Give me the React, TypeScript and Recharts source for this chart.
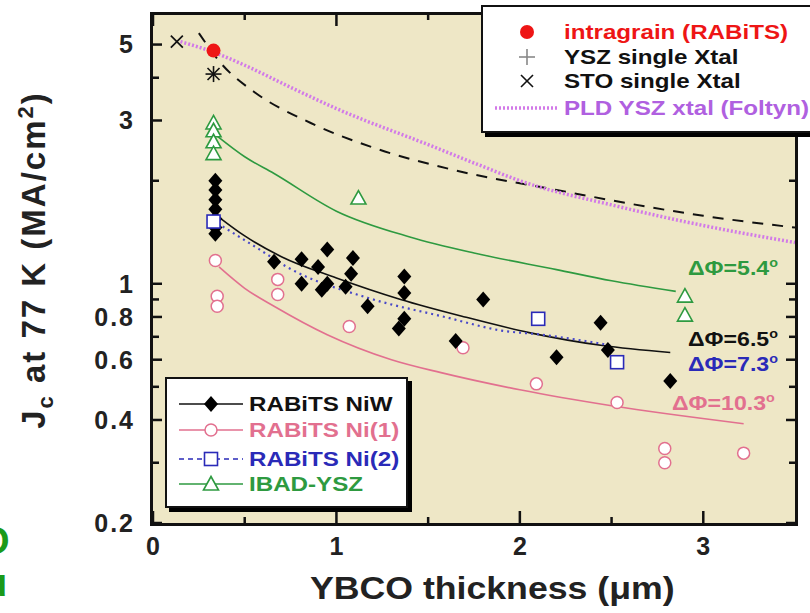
import React from 'react'
import { ComposedChart, XAxis, YAxis, Line, Scatter } from 'recharts'

const FONT = "'Liberation Sans', Arial, Helvetica, sans-serif"
const BG = '#EEE7C6'
const PINK = '#E2708F'
const BLUE = '#2A2AB8'
const GREEN = '#2E9A40'
const RED = '#EE1515'
const MAGENTA = '#D27AE8'

// measured points (thickness in um, Jc in MA/cm2)
const niwX = [0.34, 0.34, 0.34, 0.34, 0.34, 0.34, 0.34, 0.66, 0.81, 0.81, 0.9, 0.95, 0.92, 0.95, 1.09, 1.08, 1.05, 1.17, 1.37, 1.37, 1.37, 1.34, 1.65, 1.8, 2.2, 2.44, 2.48, 2.82]
const niwY = [2.0, 1.88, 1.76, 1.65, 1.55, 1.46, 1.4, 1.16, 1.18, 1.0, 1.12, 1.26, 0.96, 1.0, 1.19, 1.07, 0.98, 0.86, 1.05, 0.94, 0.79, 0.74, 0.68, 0.9, 0.61, 0.77, 0.64, 0.52]

const ni1X = [0.34, 0.35, 0.35, 0.68, 0.68, 1.07, 1.69, 2.09, 2.53, 2.79, 2.79, 3.22]
const ni1Y = [1.17, 0.92, 0.86, 1.03, 0.93, 0.75, 0.65, 0.51, 0.45, 0.33, 0.3, 0.32]

const ni2X = [0.33, 2.1, 2.53]
const ni2Y = [1.52, 0.79, 0.59]

const ibadX = [0.33, 0.33, 0.33, 0.33, 1.12, 2.9, 2.9]
const ibadY = [2.95, 2.8, 2.6, 2.4, 1.78, 0.92, 0.81]

const intraX = [0.33]
const intraY = [4.8]
const yszX = [0.33]
const yszY = [4.1]
const stoX = [0.13, 0.33]
const stoY = [5.1, 4.1]

// fitted curves
const niwFitX = [0.35, 0.5, 0.7, 1.0, 1.35, 1.7, 2.05, 2.45, 2.82]
const niwFitY = [1.58, 1.38, 1.2, 1.04, 0.9, 0.8, 0.72, 0.66, 0.63]
const ni1FitX = [0.36, 0.5, 0.66, 0.95, 1.3, 1.57, 2.0, 2.5, 3.22]
const ni1FitY = [1.12, 0.97, 0.86, 0.71, 0.6, 0.55, 0.49, 0.44, 0.39]
const ni2FitX = [0.38, 0.58, 0.73, 1.17, 1.59, 1.9, 2.12, 2.5]
const ni2FitY = [1.47, 1.26, 1.12, 0.91, 0.8, 0.73, 0.71, 0.66]
const ibadFitX = [0.35, 0.5, 0.66, 1.0, 1.4, 1.75, 2.2, 2.5, 2.85]
const ibadFitY = [2.7, 2.35, 2.1, 1.63, 1.37, 1.23, 1.1, 1.02, 0.95]
const pldX = [0.15, 0.33, 0.5, 0.75, 1.0, 1.5, 1.8, 2.0, 2.5, 3.0, 3.5]
const pldY = [5.1, 4.75, 4.35, 3.75, 3.25, 2.55, 2.2, 2.0, 1.7, 1.48, 1.32]
const xtalFitX = [0.25, 0.38, 0.55, 0.86, 1.2, 1.64, 2.2, 2.72, 3.0, 3.5]
const xtalFitY = [5.4, 4.35, 3.64, 2.95, 2.5, 2.15, 1.88, 1.67, 1.58, 1.46]

const xTicks = [0, 1, 2, 3]
const xMinor = [0.5, 1.5, 2.5]
const yTicks = [0.2, 0.4, 0.6, 0.8, 1, 3, 5]
const yMinor = [0.3, 0.5, 0.7, 0.9, 2, 4]

const deltaLabels = ['5.4', '6.5', '7.3', '10.3']

const X_DOMAIN = [0, 3.5]
const Y_DOMAIN = [0.2, 6.1]

const zip = (xs: number[], ys: number[]) => xs.map((x, i) => ({ x, y: ys[i] }))

function mark(kind: string, cx: number, cy: number, legend = false) {
  switch (kind) {
    case 'diamond':
      return <polygon points={`${cx},${cy - 8} ${cx + 7},${cy} ${cx},${cy + 8} ${cx - 7},${cy}`} fill="#000" />
    case 'circle':
      return <circle cx={cx} cy={cy} r={6} fill="#fff" stroke={PINK} strokeWidth={1.5} />
    case 'square':
      return <rect x={cx - 6.5} y={cy - 6.5} width={13} height={13} fill="#fff" stroke={BLUE} strokeWidth={1.6} />
    case 'triangle':
      return <polygon points={`${cx},${cy - 7.5} ${cx + 7.5},${cy + 6} ${cx - 7.5},${cy + 6}`} fill="#fff" stroke={GREEN} strokeWidth={1.6} />
    case 'dot':
      return <circle cx={cx} cy={cy} r={7} fill={RED} />
    case 'plus':
      return (
        <g stroke={legend ? '#888' : '#111'} strokeWidth={1.6}>
          <line x1={cx - 8} y1={cy} x2={cx + 8} y2={cy} />
          <line x1={cx} y1={cy - 8} x2={cx} y2={cy + 8} />
        </g>
      )
    default:
      return (
        <g stroke="#111" strokeWidth={1.6}>
          <line x1={cx - 6} y1={cy - 6} x2={cx + 6} y2={cy + 6} />
          <line x1={cx - 6} y1={cy + 6} x2={cx + 6} y2={cy - 6} />
        </g>
      )
  }
}

const shape = (kind: string) => (p: any) => mark(kind, p.cx, p.cy)

// a tick mark is a short stroke starting at the point and pointing into the plot
const tickShape = (dx: number, dy: number) => (p: any) => (
  <line x1={p.cx} y1={p.cy} x2={p.cx + dx} y2={p.cy + dy} stroke="#111" strokeWidth={2.5} />
)

const topLegend = [
  { kind: 'dot', label: 'intragrain (RABiTS)', color: RED },
  { kind: 'plus', label: 'YSZ single Xtal', color: '#111' },
  { kind: 'cross', label: 'STO single Xtal', color: '#111' },
  { kind: 'pld', label: 'PLD YSZ xtal (Foltyn)', color: '#B060E0' },
]

const bottomLegend = [
  { kind: 'diamond', label: 'RABiTS NiW', color: '#111', line: '#111', dash: '' },
  { kind: 'circle', label: 'RABiTS Ni(1)', color: PINK, line: PINK, dash: '' },
  { kind: 'square', label: 'RABiTS Ni(2)', color: BLUE, line: BLUE, dash: '5 4' },
  { kind: 'triangle', label: 'IBAD-YSZ', color: GREEN, line: GREEN, dash: '' },
]

const tickFont = { fill: '#222', fontSize: 25, fontWeight: 700, fontFamily: FONT }

export default function App() {
  const fitLine = (data: any[], color: string, width: number, dash?: string) => (
    <Line
      data={data}
      dataKey="y"
      xAxisId="x"
      yAxisId="y"
      type="monotone"
      stroke={color}
      strokeWidth={width}
      strokeDasharray={dash}
      dot={false}
      activeDot={false}
      isAnimationActive={false}
    />
  )
  const pts = (data: any[], kind: string) => (
    <Scatter data={data} dataKey="y" xAxisId="x" yAxisId="y" shape={shape(kind)} isAnimationActive={false} />
  )
  const ticks = (data: any[], dx: number, dy: number) => (
    <Scatter data={data} dataKey="y" xAxisId="x" yAxisId="y" shape={tickShape(dx, dy)} isAnimationActive={false} />
  )
  const [x0, x1] = X_DOMAIN
  const [y0, y1] = Y_DOMAIN
  const atX = (vals: number[], y: number) => vals.map((x) => ({ x, y }))
  const atY = (vals: number[], x: number) => vals.map((y) => ({ x, y }))
  const txt: React.CSSProperties = { position: 'absolute', fontFamily: FONT, fontWeight: 700, whiteSpace: 'nowrap', transformOrigin: 'left center' }

  return (
    <div style={{ position: 'absolute', left: 0, top: 0, width: 810, height: 613, overflow: 'hidden', background: '#fff' }}>
      {/* plot panel and frame behind the svg */}
      <div style={{ position: 'absolute', left: 150, top: 12, width: 642, height: 508, background: BG, border: '3px solid #111' }} />
      <div style={{ position: 'absolute', left: 0, top: 0 }}>
        <ComposedChart width={810} height={613} margin={{ top: 15, right: 15, bottom: 60, left: 93 }}>
          <XAxis xAxisId="x" dataKey="x" type="number" domain={X_DOMAIN} ticks={xTicks} interval={0} allowDataOverflow
            height={30} tickLine={false} tickSize={0} tickMargin={14} axisLine={false} tick={tickFont} />
          <YAxis yAxisId="y" dataKey="y" type="number" scale="log" domain={Y_DOMAIN} ticks={yTicks} interval={0} allowDataOverflow
            width={60} tickLine={false} tickSize={0} tickMargin={18} axisLine={false} tick={{ ...tickFont, letterSpacing: 2 }} />

          {/* inward tick marks on all four frame edges */}
          {ticks(atX(xTicks, y0), 0, -12)}
          {ticks(atX(xMinor, y0), 0, -6)}
          {ticks(atX(xTicks, y1), 0, 11)}
          {ticks(atX(xMinor, y1), 0, 5)}
          {ticks(atY(yTicks, x0), 9, 0)}
          {ticks(atY(yMinor, x0), 6, 0)}
          {ticks(atY(yTicks, x1), -9, 0)}
          {ticks(atY(yMinor, x1), -6, 0)}

          {fitLine(zip(xtalFitX, xtalFitY), '#111', 2, '11 9')}
          {fitLine(zip(pldX, pldY), MAGENTA, 3.5, '2 2')}
          {fitLine(zip(ibadFitX, ibadFitY), GREEN, 1.6)}
          {fitLine(zip(ni1FitX, ni1FitY), PINK, 1.6)}
          {fitLine(zip(niwFitX, niwFitY), '#111', 1.6)}
          {fitLine(zip(ni2FitX, ni2FitY), '#4848C8', 2.2, '2 4')}

          {pts(zip(ni1X, ni1Y), 'circle')}
          {pts(zip(ibadX, ibadY), 'triangle')}
          {pts(zip(niwX, niwY), 'diamond')}
          {pts(zip(ni2X, ni2Y), 'square')}
          {pts(zip(stoX, stoY), 'cross')}
          {pts(zip(yszX, yszY), 'plus')}
          {pts(zip(intraX, intraY), 'dot')}
        </ComposedChart>
      </div>

      {/* axis titles */}
      <div style={{ ...txt, left: -174, top: 240, width: 400, height: 40, lineHeight: '40px', textAlign: 'center', fontSize: 33, letterSpacing: 2, color: '#222', transform: 'rotate(-90deg)', transformOrigin: 'center' }}>
        J<sub style={{ fontSize: 22 }}>c</sub> at 77 K (MA/cm<sup style={{ fontSize: 22 }}>2</sup>)
      </div>
      <div style={{ ...txt, left: 310, top: 571, fontSize: 31, color: '#222', transform: 'scaleX(1.15)' }}>YBCO thickness (μm)</div>

      {/* fit annotations */}
      {[
        { left: 688, top: 255, color: GREEN },
        { left: 688, top: 326, color: '#111' },
        { left: 688, top: 351, color: BLUE },
        { left: 672, top: 390, color: PINK },
      ].map((a, i) => (
        <div key={i} style={{ ...txt, left: a.left, top: a.top, fontSize: 21, color: a.color, transform: 'scaleX(1.1)' }}>
          ΔΦ={deltaLabels[i]}<sup style={{ fontSize: 13 }}>o</sup>
        </div>
      ))}

      {/* top-right legend */}
      <div style={{ position: 'absolute', left: 481, top: 5, width: 340, height: 124, background: '#fff', border: '2px solid #111', boxShadow: '4px 4px 0 #000' }}>
        {topLegend.map((e, i) => (
          <div key={i} style={{ position: 'absolute', left: 0, top: [25, 50, 74, 101][i] - 14, height: 28, width: 340 }}>
            <svg width={80} height={28} style={{ position: 'absolute', left: 0, top: 0 }}>
              {e.kind === 'pld'
                ? <line x1={12} y1={14} x2={74} y2={14} stroke={MAGENTA} strokeWidth={3.5} strokeDasharray="2 2" />
                : mark(e.kind, 44, 14, true)}
            </svg>
            <div style={{ ...txt, left: 81, top: 0, lineHeight: '28px', fontSize: 21, color: e.color, transform: 'scaleX(1.15)' }}>{e.label}</div>
          </div>
        ))}
      </div>

      {/* bottom-left legend */}
      <div style={{ position: 'absolute', left: 165, top: 377, width: 239, height: 127, background: '#fff', border: '2px solid #111', boxShadow: '4px 4px 0 #000' }}>
        {bottomLegend.map((e, i) => (
          <div key={i} style={{ position: 'absolute', left: 0, top: [25, 51, 80, 105][i] - 14, height: 28, width: 239 }}>
            <svg width={80} height={28} style={{ position: 'absolute', left: 0, top: 0 }}>
              <line x1={12} y1={14} x2={76} y2={14} stroke={e.line} strokeWidth={1.5} strokeDasharray={e.dash || undefined} />
              {mark(e.kind, 44, 14, true)}
            </svg>
            <div style={{ ...txt, left: 82, top: 0, lineHeight: '28px', fontSize: 21, color: e.color, transform: 'scaleX(1.15)' }}>{e.label}</div>
          </div>
        ))}
      </div>

      {/* clipped slide text at left edge */}
      <div style={{ ...txt, left: -20, top: 520, fontSize: 38, color: '#1A9A1A' }}>O</div>
      <div style={{ ...txt, left: -16, top: 562, fontSize: 38, color: '#1A9A1A' }}>u</div>
    </div>
  )
}
